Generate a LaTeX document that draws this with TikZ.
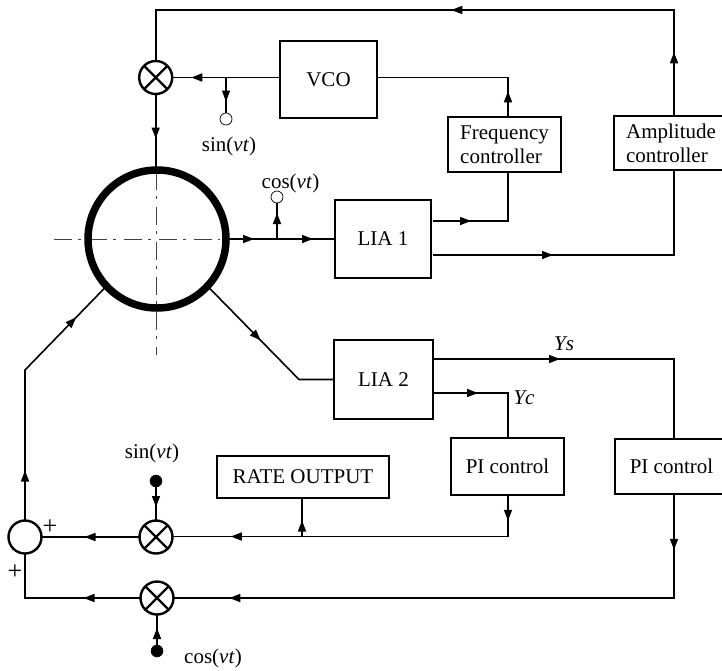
\documentclass[tikz,border=0pt]{standalone}
\usepackage{fontspec}
\setmainfont{Liberation Serif}
\usetikzlibrary{arrows.meta,decorations.markings}
\tikzset{
  wire/.style={line width=1.6pt},
  tipat/.style={postaction={decorate,decoration={markings,mark=at position #1pt with {\arrow{Triangle[length=11pt,width=8pt]}}}}},
  box/.style={draw,line width=1.5pt,inner sep=0pt,align=left,font=\fontsize{21}{24}\selectfont},
  lbl/.style={inner sep=0pt,font=\fontsize{21}{24}\selectfont},
  pluslbl/.style={inner sep=0pt,font=\fontsize{26}{28}\selectfont},
  mixer/.style={draw,circle,line width=2.4pt,fill=white,minimum size=33pt,inner sep=0pt,outer sep=0pt,
    path picture={\draw[line width=2.4pt] (path picture bounding box.center) +(-12,-12) -- +(12,12) (path picture bounding box.center) +(-12,12) -- +(12,-12);}},
  summer/.style={draw,circle,line width=2.4pt,fill=white,minimum size=33pt,inner sep=0pt,outer sep=0pt},
  opendot/.style={draw,circle,line width=.7pt,fill=white,minimum size=12pt,inner sep=0pt,outer sep=0pt},
  soliddot/.style={draw,circle,fill=black,line width=.5pt,minimum size=12pt,inner sep=0pt,outer sep=0pt},
  axis/.style={line width=.8pt,black!75,dash pattern=on 18pt off 6pt on 3pt off 8pt},
  ringst/.style={draw,circle,line width=7.5pt,minimum size=138pt,inner sep=0pt,outer sep=0pt},
}
\begin{document}
\begin{tikzpicture}[x=1pt,y=-1pt]
\useasboundingbox (0,0) rectangle (722,670);
% blocks
\node[box,minimum width=97pt,minimum height=77pt] (vco) at (328.5,79.5) {VCO};
\node[box,minimum width=113pt,minimum height=55pt] (freq) at (504.5,144.5) {Frequency\\controller};
\node[box,minimum width=109pt,minimum height=54pt] (amp) at (668.5,143) {\hspace*{5pt}Amplitude\\\hspace*{5pt}controller};
\node[box,minimum width=96pt,minimum height=78pt] (lia1) at (383,239) {LIA 1};
\node[box,minimum width=99pt,minimum height=79pt] (lia2) at (383.5,379.5) {LIA 2};
\node[box,minimum width=172pt,minimum height=42pt] (rate) at (303,477) {RATE OUTPUT};
\node[box,minimum width=113pt,minimum height=57pt] (pi1) at (507.5,466.5) {PI control};
\node[box,minimum width=108pt,minimum height=55pt] (pi2) at (669,466.5) {\hspace*{5pt}PI control};
\node[mixer] (mt) at (155.7,77.5) {};
\node[mixer] (ms) at (156,537) {};
\node[mixer] (mc) at (157,598) {};
\node[summer] (sum) at (25,537) {};
\node[opendot] (d1) at (226,119) {};
\node[opendot] (d2) at (277,197) {};
\node[soliddot] (d3) at (156,481) {};
\node[soliddot] (d4) at (157,651) {};
% labels
\node[lbl] at (229,146) {sin(\textit{vt})};
\node[lbl] at (290.5,183) {cos(\textit{vt})};
\node[lbl] at (152,453) {sin(\textit{vt})};
\node[lbl] at (213,658) {cos(\textit{vt})};
\node[lbl] at (564,344) {\textit{Ys}};
\node[lbl] at (524,398) {\textit{Yc}};
\node[pluslbl] at (50,527) {+};
\node[pluslbl] at (15,572) {+};
% points
\coordinate (rc) at (157,239);
\coordinate (axL) at (54,239);
\coordinate (axR) at (220,239);
\coordinate (axT) at (156,172);
\coordinate (axB) at (156,355);
\coordinate (j1) at (226,77.5);
\coordinate (j2) at (277,239);
\coordinate (a1) at (674,10);
\coordinate (a2) at (155.7,10);
\coordinate (v1) at (508,77.5);
\coordinate (f0) at (433,221);
\coordinate (f1) at (508,221);
\coordinate (g0) at (433,255);
\coordinate (g1) at (674,255);
\coordinate (l1) at (299,379.5);
\coordinate (y0) at (433,359);
\coordinate (y1) at (674,359);
\coordinate (c0) at (433,393);
\coordinate (c1) at (508,393);
\coordinate (p1) at (508,536.5);
\coordinate (j3) at (302,536.5);
\coordinate (p2) at (674,598);
\coordinate (s1) at (25,598);
\coordinate (s2) at (25,370);
% axes
\draw[axis] (axL) -- (axR);
\draw[axis] (axT) -- (axB);
% ring
\node[ringst] (ring) at (rc) {};
% connectors
\draw[wire,tipat=88] (vco.west |- mt.east) -- (mt.east);
\draw[wire,tipat=24] (j1) -- (d1.north);
\draw[wire,tipat=44.5] (mt.south) -- (mt.south |- ring.north);
\draw[wire,tipat=63,tipat=328] (amp.north -| a1) -- (a1) -- (a2) -- (mt.north);
\draw[wire,tipat=25] (freq.north -| v1) -- (v1) -- (vco.east |- v1);
\draw[wire,tipat=28,tipat=87] (ring.east) -- (lia1.west);
\draw[wire,tipat=26] (j2) -- (d2.south);
\draw[wire,tipat=38] (f0) -- (f1) -- (freq.south -| f1);
\draw[wire,tipat=120] (g0) -- (g1) -- (amp.south -| g1);
\draw[wire,tipat=76] (ring.-43) -- (l1) -- (lia2.west |- l1);
\draw[wire,tipat=127] (y0) -- (y1) -- (pi2.north -| y1);
\draw[wire,tipat=45] (c0) -- (c1) -- (pi1.north -| c1);
\draw[wire,tipat=25,tipat=318] (pi1.south -| p1) -- (p1) -- (ms.east |- p1);
\draw[wire,tipat=16] (j3) -- (rate.south -| j3);
\draw[wire,tipat=20] (d3.south) -- (ms.north);
\draw[wire,tipat=55] (ms.west) -- (sum.east);
\draw[wire,tipat=55,tipat=548] (pi2.south -| p2) -- (p2) -- (mc.east);
\draw[wire,tipat=57] (mc.west) -- (s1) -- (sum.south);
\draw[wire,tipat=17] (d4.north) -- (mc.south);
\draw[wire,tipat=50,tipat=224] (sum.north) -- (s2) -- (ring.223);
\end{tikzpicture}
\end{document}
